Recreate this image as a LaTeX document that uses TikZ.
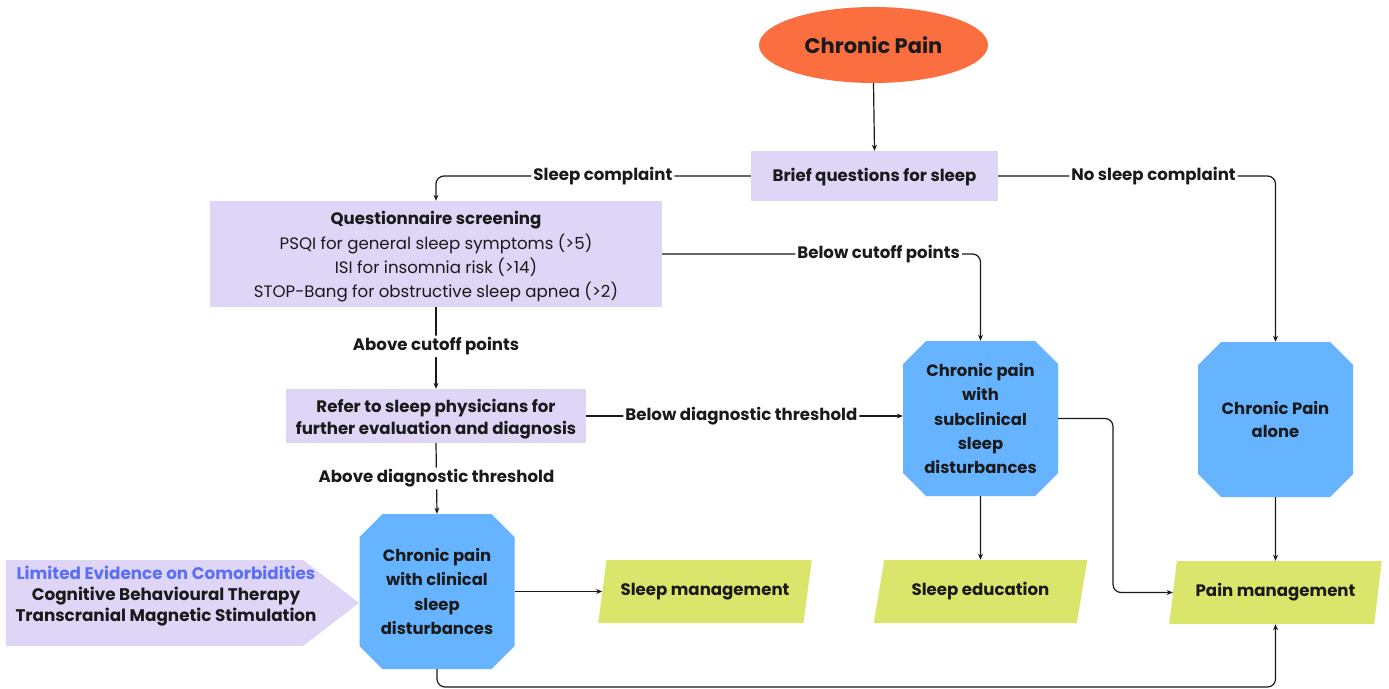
\documentclass[tikz,border=0pt]{standalone}
\usepackage{fontspec}
\setmainfont{Poppins}
\usetikzlibrary{arrows.meta,shapes.geometric,calc}
\definecolor{cporange}{HTML}{FB6E40}
\definecolor{lav}{HTML}{DED5F7}
\definecolor{octblue}{HTML}{66B3FF}
\definecolor{lime}{HTML}{D9E66B}
\definecolor{evblue}{HTML}{5B6FF2}
\definecolor{ink}{HTML}{1A1A1A}
\begin{document}
\begin{tikzpicture}[x=1pt,y=-1pt,
  font=\fontsize{16.6}{24.3}\selectfont\bfseries, text=ink,
  ell/.style={ellipse, fill=cporange, minimum width=229pt, minimum height=76pt, inner sep=0pt,
    font=\fontsize{21}{24}\selectfont\bfseries},
  lbox/.style={fill=lav, inner sep=0pt, align=center},
  btext/.style={inner sep=0pt, align=center},
  octo/.style={minimum width=155pt, minimum height=155pt, inner sep=0pt, align=center, fill=white,
    font=\fontsize{16.4}{24.4}\selectfont\bfseries,
    path picture={\fill[octblue]
      ($(path picture bounding box.south west)+(0pt,23pt)$) --
      ($(path picture bounding box.south west)+(23pt,0pt)$) --
      ($(path picture bounding box.south east)+(-23pt,0pt)$) --
      ($(path picture bounding box.south east)+(0pt,23pt)$) --
      ($(path picture bounding box.north east)+(0pt,-23pt)$) --
      ($(path picture bounding box.north east)+(-23pt,0pt)$) --
      ($(path picture bounding box.north west)+(23pt,0pt)$) --
      ($(path picture bounding box.north west)+(0pt,-23pt)$) -- cycle;}},
  para/.style={trapezium, trapezium stretches=true, fill=lime, inner sep=0pt,
    minimum width=214pt, minimum height=63pt},
  lab/.style={fill=white, inner sep=2pt},
  conn/.style={draw=ink, line width=1.2pt, rounded corners=8pt},
  arr/.style={conn, -{Stealth[length=6pt,width=5pt]}}
]
\useasboundingbox (0,0) rectangle (1389,688);
\fill[white] (0,0) rectangle (1389,688);

% nodes
\node[ell] (cp) at (873.5,45) {Chronic Pain};
\node[lbox, minimum width=247pt, minimum height=50pt] (bq) at (874.5,176) {};
\node[btext] (bqt) at (874.5,177.5) {Brief questions for sleep};
\node[lbox, minimum width=452pt, minimum height=106pt] (qs) at (436,254) {};
\node[btext] (qst) at (436,257)
  {Questionnaire screening\\
   {\mdseries PSQI for general sleep symptoms (>5)}\\
   {\mdseries ISI for insomnia risk (>14)}\\
   {\mdseries STOP-Bang for obstructive sleep apnea (>2)}};
\node[lbox, minimum width=300pt, minimum height=54pt] (rf) at (436,416) {};
\node[btext, font=\fontsize{16.6}{22}\selectfont\bfseries] (rft) at (436,419)
  {Refer to sleep physicians for\\further evaluation and diagnosis};
\node[octo] (cl) at (437,591.5) {Chronic pain\\with clinical\\sleep\\disturbances};
\node[octo] (sub) at (980.5,418.5) {Chronic pain\\with\\subclinical\\sleep\\disturbances};
\node[octo, font=\fontsize{16.4}{23}\selectfont\bfseries] (al) at (1275.5,419.5) {Chronic Pain\\alone};
\node[para, trapezium left angle=67, trapezium right angle=113] (sm) at (705,591.5) {\raisebox{-1.5pt}{Sleep management}};
\node[para, trapezium left angle=67, trapezium right angle=113] (se) at (980.5,591.5) {\raisebox{-1.5pt}{Sleep education}};
\node[para, trapezium left angle=71, trapezium right angle=109, minimum width=213pt] (pm) at (1275.5,592.5) {\raisebox{-1.5pt}{Pain management}};

% evidence arrow
\fill[lav] (6,560) -- (303,560) -- (359,603) -- (303,646) -- (6,646) -- cycle;
\node[align=center, font=\fontsize{16.8}{21}\selectfont\bfseries] (ev) at (166,596)
  {\textcolor{evblue}{Limited Evidence on Comorbidities}\\Cognitive Behavioural Therapy\\Transcranial Magnetic Stimulation};

\coordinate (kneeA) at (1113,418.5);
\coordinate (bot) at (437,687);

% connectors
\draw[arr] (cp.south) -- (bq.north);
\draw[arr] (bq.west) -- node[lab, pos=0.47] {Sleep complaint} (qs.north |- bq.west) -- (qs.north);
\draw[arr] (bq.east) -- node[lab, pos=0.56] {No sleep complaint} (al.north |- bq.east) -- (al.north);
\draw[arr] (qs.east) -- node[lab, pos=0.68] {Below cutoff points} (sub.north |- qs.east) -- (sub.north);
\draw[arr] (qs.south) -- node[lab, pos=0.48] {Above cutoff points} (rf.north);
\draw[arr] (rf.east) -- node[lab, pos=0.49] {Below diagnostic threshold} (sub.west |- rf.east);
\draw[arr] (rf.south) -- node[lab, pos=0.5] {Above diagnostic threshold} (cl.north);
\draw[arr] (cl.east) -- (sm.west);
\draw[arr] (sub.south) -- (se.north);
\draw[arr] (sub.east) -- (kneeA) |- (pm.west);
\draw[arr] (al.south) -- (pm.north);
\draw[arr] (cl.south) -- (bot) -| (pm.south);
\end{tikzpicture}
\end{document}
